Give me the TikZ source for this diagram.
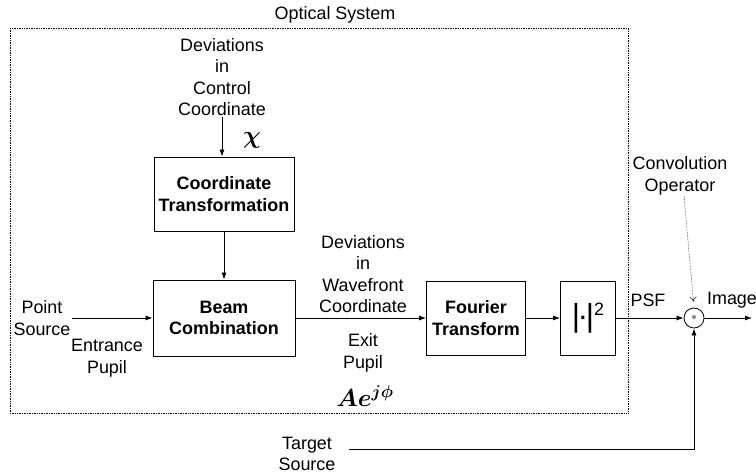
\documentclass[tikz,border=0pt]{standalone}
\usepackage{fontspec}
\setmainfont{Liberation Sans}
\usetikzlibrary{positioning,arrows.meta}

\begin{document}
\begin{tikzpicture}
            [x=1bp,y=-1bp,
             every node/.style={font=\fontsize{18}{21.5}\selectfont},
             blk/.style={draw,line width=0.9bp,minimum height=74bp,align=center,
                         font=\fontsize{18}{21.5}\selectfont\bfseries},
             lbl/.style={align=center,inner sep=1bp},
             sym/.style={font=\fontsize{26}{26}\selectfont\boldmath},
             sig/.style={line width=0.8bp,-{Latex[length=7bp,width=5bp]}},
             opr/.style={densely dotted,line width=0.5bp,-{To[length=5bp,width=7bp]},shorten >=6bp}]
            \useasboundingbox (0,0) rectangle (756,474);
            % optical system frame
            \draw[densely dotted,line width=0.7bp] (10,28) rectangle (628,413);
            \node[lbl](opt) at (335,15){Optical System};
            % blocks
            \node[blk,minimum width=140bp](ct) at (224,194){Coordinate\\Transformation};
            \node[blk,minimum width=142bp,minimum height=76bp](bc) at (224,318){Beam\\Combination};
            \node[blk,minimum width=99bp](ft) at (476,318){Fourier\\Transform};
            \node[blk,minimum width=55bp,font=\fontsize{18}{18}\selectfont](ab) at (588,318)
                {{\fontsize{32}{32}\selectfont|\kern-2.5bp\textperiodcentered\kern-2.5bp|}\raisebox{11bp}{2}};
            \node[draw,circle,line width=0.8bp,minimum size=20bp,inner sep=0pt](cv) at (694,318)
                {\fontsize{12}{12}\selectfont$\ast$};
            % labels
            \node[lbl](dcc) at (222,77){Deviations\\in\\Control\\Coordinate};
            \node[sym](chi) at (252,140){$\chi$};
            \node[lbl](dwc) at (363,274){Deviations\\in\\Wavefront\\Coordinate};
            \node[lbl](ep) at (363,353){Exit\\Pupil};
            \node[sym](amp) at (365,396){$Ae^{j\phi}$};
            \node[lbl](ps) at (42,318){Point\\Source};
            \node[lbl](enp) at (107,358){Entrance\\Pupil};
            \node[lbl](psf) at (648,300){PSF};
            \node[lbl](img) at (732,300){Image};
            \node[lbl](conv) at (680,176){Convolution\\Operator};
            \node[lbl](ts) at (307,454){Target\\Source};
            \coordinate(out) at (752,318);
            % signal flow
            \draw[sig](dcc) -- (dcc |- ct.north);
            \draw[sig](ct) -- (bc);
            \draw[sig](ps) -- (bc);
            \draw[sig](bc) -- (ft);
            \draw[sig](ft) -- (ab);
            \draw[sig](ab) -- (cv);
            \draw[sig](cv) -- (out);
            \draw[sig]([shift={(12bp,5bp)}]ts.east) -| (cv);
            \draw[opr]([xshift=4bp]conv.south) -- (cv.north);
        \end{tikzpicture}
\end{document}
